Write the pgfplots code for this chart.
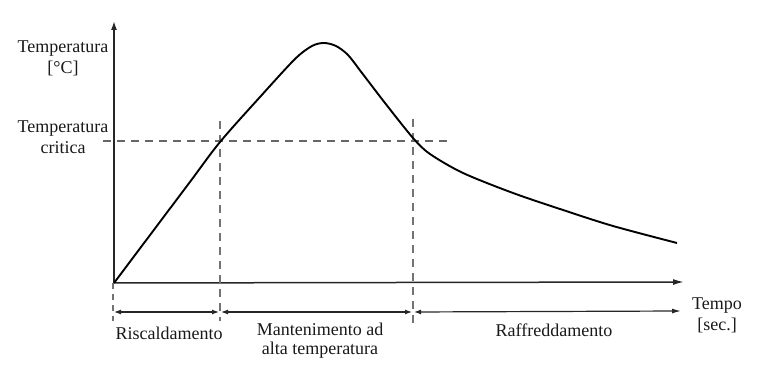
\documentclass[border=0pt]{standalone}
\usepackage{fontspec}
\setmainfont{Liberation Serif}
\usepackage{pgfplots}
\pgfplotsset{compat=1.18}
\usetikzlibrary{arrows.meta}
\tikzset{lbl/.style={font=\fontsize{18}{21}\selectfont, text=black!90, inner sep=0pt}}
\begin{document}
\begin{tikzpicture}
\begin{axis}[
  width=757pt, height=379pt, scale only axis,
  xmin=0, xmax=757, ymin=0, ymax=379,
  axis lines=none, clip=false,
]
\path (rel axis cs:0,0) rectangle (rel axis cs:1,1);
% axes
\draw[line width=1.5pt, black!85, -{Latex[length=9pt,width=6pt]}] (axis cs:114,96) -- (axis cs:114,358);
\draw[line width=1.5pt, black!85, -{Latex[length=11pt,width=6pt]}] (axis cs:114,96) -- (axis cs:684,97);
% dashed guides
\draw[line width=1.3pt, black!60, dash pattern=on 8pt off 6pt] (axis cs:103,238) -- (axis cs:448,238);
\draw[line width=1.3pt, black!55, dash pattern=on 8pt off 6pt] (axis cs:220,258) -- (axis cs:220,58);
\draw[line width=1.3pt, black!55, dash pattern=on 8pt off 6pt] (axis cs:413,260) -- (axis cs:413,56);
\draw[line width=1.3pt, black!55, dash pattern=on 6pt off 5pt] (axis cs:113,96) -- (axis cs:113,58);
% phase bar
\draw[line width=1.2pt, black!85, {Latex[length=7pt,width=5pt]}-{Latex[length=7pt,width=5pt]}] (axis cs:114,67) -- (axis cs:219,67);
\draw[line width=1.2pt, black!85, {Latex[length=7pt,width=5pt]}-{Latex[length=7pt,width=5pt]}] (axis cs:221,67) -- (axis cs:412,67);
\draw[line width=1.2pt, black!85, {Latex[length=7pt,width=5pt]}-{Latex[length=9pt,width=5pt]}] (axis cs:414,67) -- (axis cs:681,68);
% curve
\addplot[line width=1.9pt, black, smooth, tension=0.5] coordinates {
 (114,96) (150,143.9) (190,197.1) (220,237) (260,282) (295,320)
 (312,333) (324,336) (336,333) (348,324) (362,306) (385,276)
 (413,241) (430,225) (463,206) (513,186) (563,169) (613,153) (677,136)
};
% labels
\node[lbl, align=center] at (axis cs:63,321) {Temperatura\\{[°C]}};
\node[lbl, align=center] at (axis cs:63,242) {Temperatura\\critica};
\node[lbl, align=center] at (axis cs:717,64) {Tempo\\{[sec.]}};
\node[lbl] at (axis cs:169,46) {Riscaldamento};
\node[lbl, align=center, font=\fontsize{18}{19}\selectfont] at (axis cs:320,38) {Mantenimento ad\\alta temperatura};
\node[lbl] at (axis cs:554,49) {Raffreddamento};
\end{axis}
\end{tikzpicture}
\end{document}
